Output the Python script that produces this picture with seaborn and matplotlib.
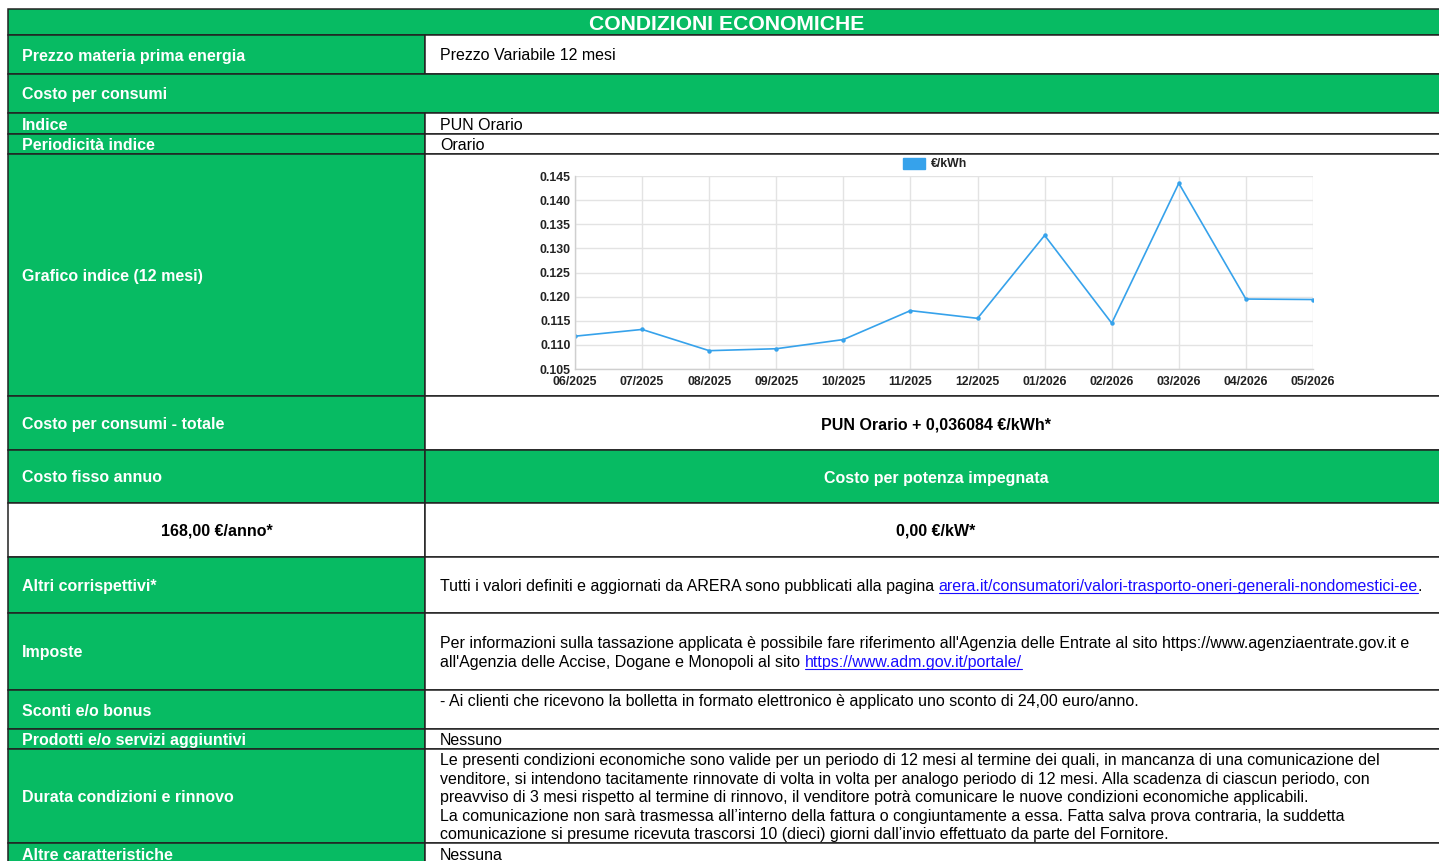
import matplotlib
matplotlib.use("Agg")
import matplotlib.pyplot as plt
import seaborn as sns
import pandas as pd
from matplotlib.patches import Rectangle, Patch

# ---------------- data ----------------
title = "CONDIZIONI ECONOMICHE"
months = ["06/2025", "07/2025", "08/2025", "09/2025", "10/2025", "11/2025",
          "12/2025", "01/2026", "02/2026", "03/2026", "04/2026", "05/2026"]
pun_values = [0.1118, 0.1132, 0.1088, 0.1092, 0.1111, 0.1171,
              0.1155, 0.1327, 0.1145, 0.1435, 0.1195, 0.1194]
y_ticks = [0.105, 0.110, 0.115, 0.120, 0.125, 0.130, 0.135, 0.140, 0.145]
series_label = "€/kWh"

labels = ["Prezzo materia prima energia", "Costo per consumi", "Indice",
          "Periodicità indice", "Grafico indice (12 mesi)", "Costo per consumi - totale",
          "Costo fisso annuo", "168,00 €/anno*", "Altri corrispettivi*", "Imposte",
          "Sconti e/o bonus", "Prodotti e/o servizi aggiuntivi",
          "Durata condizioni e rinnovo", "Altre caratteristiche"]
right_texts = ["Prezzo Variabile 12 mesi", "", "PUN Orario", "Orario", "",
               "PUN Orario + 0,036084 €/kWh*", "Costo per potenza impegnata", "0,00 €/kW*",
               "", "", "- Ai clienti che ricevono la bolletta in formato elettronico è applicato uno sconto di 24,00 euro/anno.",
               "Nessuno", "", "Nessuna"]
altri_text = "Tutti i valori definiti e aggiornati da ARERA sono pubblicati alla pagina "
altri_link = "arera.it/consumatori/valori-trasporto-oneri-generali-nondomestici-ee"
imposte_line1 = "Per informazioni sulla tassazione applicata è possibile fare riferimento all'Agenzia delle Entrate al sito https://www.agenziaentrate.gov.it e"
imposte_line2 = "all'Agenzia delle Accise, Dogane e Monopoli al sito "
imposte_link = "https://www.adm.gov.it/portale/"
durata_lines = [
    "Le presenti condizioni economiche sono valide per un periodo di 12 mesi al termine dei quali, in mancanza di una comunicazione del",
    "venditore, si intendono tacitamente rinnovate di volta in volta per analogo periodo di 12 mesi. Alla scadenza di ciascun periodo, con",
    "preavviso di 3 mesi rispetto al termine di rinnovo, il venditore potrà comunicare le nuove condizioni economiche applicabili.",
    "La comunicazione non sarà trasmessa all\u2019interno della fattura o congiuntamente a essa. Fatta salva prova contraria, la suddetta",
    "comunicazione si presume ricevuta trascorsi 10 (dieci) giorni dall\u2019invio effettuato da parte del Fornitore.",
]

# ---------------- style ----------------
sns.set_theme(style="white")
plt.rcParams['font.family'] = ['Liberation Sans', 'DejaVu Sans']

W, H = 1439, 861
GREEN = "#07BB63"
BLUE = "#36A2EB"
LINK = "#1a0dff"
BORDER = "#222222"
PX = 0.72  # px -> pt at dpi 100

fig = plt.figure(figsize=(W / 100, H / 100), dpi=100)
ax = fig.add_axes([0, 0, 1, 1])
ax.set_xlim(0, W)
ax.set_ylim(H, 0)
ax.axis("off")

X0, XM, X1 = 8, 425, 1442
edges = [35, 74, 113, 134, 154, 396, 450, 503, 557, 613, 690, 729, 749, 843, 866]
styles = ["split", "full", "split", "split", "split", "split", "green2", "white2",
          "split", "split", "split", "split", "split", "split"]

LBL = 16.05 * PX
TXT = 16.05 * PX
DY = 1.5
RC = 936  # centre of right column text


def cell(x0, y0, x1, y1, color):
    ax.add_patch(Rectangle((x0, y0), x1 - x0, y1 - y0, facecolor=color,
                           edgecolor=BORDER, linewidth=1.1, zorder=1))


# header
cell(X0, 9, X1, 35, GREEN)
ax.text(727, 22.5 + DY, title, color="white", fontsize=21.2 * PX,
        fontweight="bold", ha="center", va="center", zorder=3)

for i, (lab, rt, st) in enumerate(zip(labels, right_texts, styles)):
    top, bot = edges[i], edges[i + 1]
    cy = (top + bot) / 2 + DY
    if st == "full":
        cell(X0, top, X1, bot, GREEN)
        ax.text(22, cy, lab, color="white", fontsize=LBL, fontweight="bold",
                ha="left", va="center", zorder=3)
    elif st == "split":
        cell(X0, top, XM, bot, GREEN)
        cell(XM, top, X1, bot, "white")
        ax.text(22, cy, lab, color="white", fontsize=LBL, fontweight="bold",
                ha="left", va="center", zorder=3)
        if rt:
            if lab == "Costo per consumi - totale":
                ax.text(RC, cy, rt, color="black", fontsize=TXT,
                        fontweight="bold", ha="center", va="center", zorder=3)
            elif lab == "Sconti e/o bonus":
                ax.text(440, 700 + DY, rt, color="black", fontsize=TXT,
                        ha="left", va="center", zorder=3)
            else:
                ax.text(440, cy, rt, color="black", fontsize=TXT,
                        ha="left", va="center", zorder=3)
    elif st == "green2":
        cell(X0, top, XM, bot, GREEN)
        cell(XM, top, X1, bot, GREEN)
        ax.text(22, cy, lab, color="white", fontsize=LBL, fontweight="bold",
                ha="left", va="center", zorder=3)
        ax.text(RC, cy, rt, color="white", fontsize=LBL,
                fontweight="bold", ha="center", va="center", zorder=3)
    elif st == "white2":
        cell(X0, top, XM, bot, "white")
        cell(XM, top, X1, bot, "white")
        ax.text((X0 + XM) / 2, cy, lab, color="black", fontsize=LBL,
                fontweight="bold", ha="center", va="center", zorder=3)
        ax.text(RC, cy, rt, color="black", fontsize=LBL,
                fontweight="bold", ha="center", va="center", zorder=3)

renderer = fig.canvas.get_renderer()
inv = ax.transData.inverted()


def run_text(x, y, parts):
    """Draw consecutive text pieces; parts: list of (text, is_link)."""
    for txt, is_link in parts:
        t = ax.text(x, y, txt, color=LINK if is_link else "black", fontsize=TXT,
                    ha="left", va="center", zorder=3)
        bb = t.get_window_extent(renderer=renderer)
        (xa, ya), (xb, yb) = inv.transform([[bb.x0, bb.y0], [bb.x1, bb.y1]])
        if is_link:
            ax.plot([xa, xb], [y + 6.5, y + 6.5], color=LINK, lw=0.8, zorder=3)
        x = xb


run_text(440, 585 + DY, [(altri_text, False), (altri_link, True), (".", False)])
ax.text(440, 642 + DY, imposte_line1, color="black", fontsize=TXT, ha="left",
        va="center", zorder=3)
run_text(440, 661 + DY, [(imposte_line2, False), (imposte_link, True)])
for k, line in enumerate(durata_lines):
    ax.text(440, 759 + DY + k * 18.6, line, color="black", fontsize=TXT, ha="left",
            va="center", zorder=3)

# ---------------- embedded chart ----------------
cx0, cx1, cy0, cy1 = 575, 1313, 176, 369
cax = fig.add_axes([cx0 / W, 1 - cy1 / H, (cx1 - cx0) / W, (cy1 - cy0) / H])
df = pd.DataFrame({"month": months, "value": pun_values})
sns.lineplot(data=df, x="month", y="value", ax=cax, color=BLUE, linewidth=1.2,
             marker="o", markersize=3.2, markeredgewidth=0, sort=False)
cax.set_xlim(0, len(months) - 1)
cax.set_ylim(y_ticks[0], y_ticks[-1])
cax.set_yticks(y_ticks)
cax.set_yticklabels([f"{v:.3f}" for v in y_ticks])
cax.set_xticks(range(len(months)))
cax.set_xticklabels(months)
cax.set_xlabel("")
cax.set_ylabel("")
cax.grid(True, color="#e3e3e3", linewidth=1.0)
cax.set_axisbelow(True)
for side in ["top", "right"]:
    cax.spines[side].set_visible(False)
for side in ["left", "bottom"]:
    cax.spines[side].set_color("#cfcfcf")
    cax.spines[side].set_linewidth(1.0)
TICK = 12.2 * PX
cax.tick_params(axis="both", length=0, pad=3, labelsize=TICK, labelcolor="#222222")
for lab in cax.get_xticklabels() + cax.get_yticklabels():
    lab.set_fontweight("bold")
cax.tick_params(axis="x", pad=5)
cax.legend(handles=[Patch(facecolor=BLUE, edgecolor=BLUE, label=series_label)],
           loc="lower center", bbox_to_anchor=(0.488, 0.985), frameon=False,
           handlelength=1.75, handleheight=1.0, handletextpad=0.5,
           prop={"weight": "bold", "size": TICK}, borderpad=0.2)
for t in cax.get_legend().get_texts():
    t.set_color("#222222")

fig.savefig("out.png", dpi=100)
